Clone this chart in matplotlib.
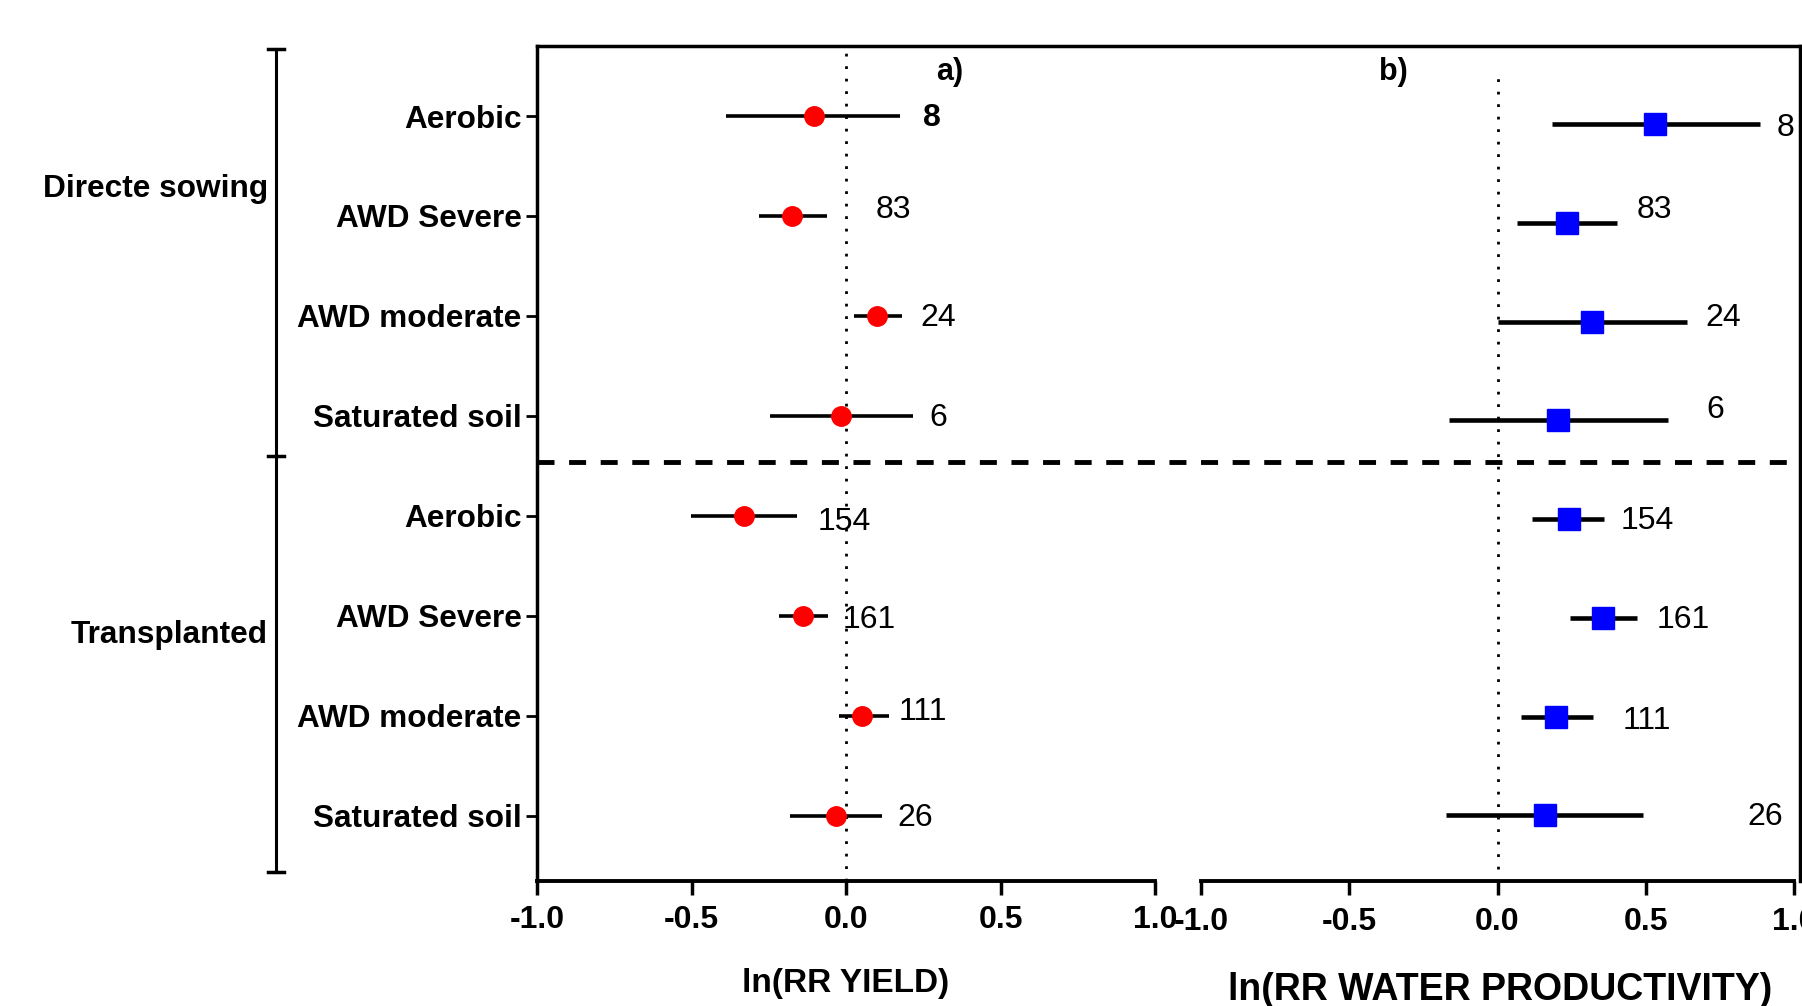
import matplotlib
matplotlib.use('Agg')
import matplotlib.pyplot as plt
import matplotlib.transforms as mtransforms
import numpy as np

plt.rcParams['font.family'] = ['Liberation Sans', 'DejaVu Sans']

# Data
rows = ['Aerobic', 'AWD Severe', 'AWD moderate', 'Saturated soil',
        'Aerobic', 'AWD Severe', 'AWD moderate', 'Saturated soil']
groups = ['Directe sowing', 'Transplanted']
n_obs = ['8', '83', '24', '6', '154', '161', '111', '26']

# a) ln(RR yield)
yield_mean = [-0.104, -0.175, 0.100, -0.015, -0.331, -0.138, 0.052, -0.033]
yield_low = [-0.387, -0.283, 0.026, -0.245, -0.502, -0.216, -0.022, -0.182]
yield_high = [0.175, -0.063, 0.182, 0.216, -0.160, -0.059, 0.138, 0.115]

# b) ln(RR water productivity)
wp_mean = [0.531, 0.233, 0.318, 0.205, 0.240, 0.357, 0.198, 0.159]
wp_low = [0.182, 0.066, 0.000, -0.163, 0.116, 0.244, 0.078, -0.174]
wp_high = [0.884, 0.403, 0.640, 0.574, 0.360, 0.469, 0.322, 0.492]

# where the n labels sit (x in data units, y offset in rows)
yield_nx = [0.249, 0.097, 0.242, 0.271, -0.093, -0.011, 0.171, 0.167]
yield_ny = [0.02, -0.06, 0.02, 0.02, 0.06, 0.04, -0.04, 0.02]
wp_nx = [0.942, 0.469, 0.702, 0.705, 0.415, 0.535, 0.422, 0.841]
wp_ny = [0.04, -0.13, -0.04, -0.11, 0.02, 0.02, 0.04, 0.02]

xticks = [-1.0, -0.5, 0.0, 0.5, 1.0]
pos = np.arange(1, len(rows) + 1)

fig = plt.figure(figsize=(18.02, 10.06), dpi=100)

ax_bottom, ax_height = 0.1243, 0.830
ax_frame = fig.add_axes([0.298, ax_bottom, 0.7009, ax_height])
ax1 = fig.add_axes([0.298, ax_bottom, 0.343, ax_height])
ax2 = fig.add_axes([0.6665, ax_bottom, 0.3324, ax_height])

# frame: long top line and dashed group separator
ax_frame.set_xlim(0, 1)
ax_frame.set_ylim(8.655, 0.299)
for s in ['left', 'right', 'bottom']:
    ax_frame.spines[s].set_visible(False)
ax_frame.spines['top'].set_linewidth(2.5)
ax_frame.set_xticks([])
ax_frame.set_yticks([])
ax_frame.patch.set_alpha(0)
ax_frame.plot([0, 1.02], [4.46, 4.46], color='black', lw=3.5,
              ls=(0, (3.5, 3)), zorder=1, clip_on=False)

# left panel
ax1.patch.set_alpha(0)
ax1.set_xlim(-1, 1)
ax1.set_ylim(8.655, 0.299)
ax1.axvline(0, color='black', lw=2.0, ls=(0, (1, 3.5)), zorder=1)
yerr_l = [np.array(yield_mean) - np.array(yield_low),
          np.array(yield_high) - np.array(yield_mean)]
ax1.errorbar(yield_mean, pos, xerr=yerr_l, fmt='o', color='red', ms=14,
             ecolor='black', elinewidth=2.6, capsize=0, zorder=3)
for i, lab in enumerate(n_obs):
    ax1.text(yield_nx[i], pos[i] + yield_ny[i], lab, fontsize=23, va='center',
             ha='left', fontweight='bold' if i == 0 else 'normal')
ax1.text(0.335, 0.56, 'a)', fontsize=22, fontweight='bold', va='center', ha='center')
ax1.spines['right'].set_visible(False)
ax1.spines['top'].set_visible(False)
ax1.spines['left'].set_linewidth(2.5)
ax1.spines['bottom'].set_linewidth(2.8)
ax1.set_yticks(pos)
ax1.set_yticklabels(rows, fontsize=22.7, fontweight='bold')
ax1.tick_params(axis='y', length=8, width=2, pad=3)
ax1.set_xticks(xticks)
ax1.set_xticklabels([f'{t:.1f}' for t in xticks], fontsize=23, fontweight='bold')
ax1.tick_params(axis='x', length=10, width=2.5, pad=7)
ax1.set_xlabel('ln(RR YIELD)', fontsize=24, fontweight='bold', labelpad=24)

# right panel
ax2.patch.set_alpha(0)
ax2.set_xlim(-1, 1.02)
ax2.set_ylim(8.663, 0.209)
ax2.axvline(0, ymin=0.014, ymax=0.972, color='black', lw=2.0,
            ls=(0, (1, 3.5)), zorder=1)
yerr_r = [np.array(wp_mean) - np.array(wp_low),
          np.array(wp_high) - np.array(wp_mean)]
ax2.errorbar(wp_mean, pos, xerr=yerr_r, fmt='s', color='blue', ms=16,
             ecolor='black', elinewidth=3.3, capsize=0, zorder=3)
for i, lab in enumerate(n_obs):
    ax2.text(wp_nx[i], pos[i] + wp_ny[i], lab, fontsize=23, va='center', ha='left')
ax2.text(-0.35, 0.47, 'b)', fontsize=22, fontweight='bold', va='center', ha='center')
ax2.spines['left'].set_visible(False)
ax2.spines['top'].set_visible(False)
ax2.spines['right'].set_linewidth(2.5)
ax2.spines['bottom'].set_linewidth(2.8)
ax2.spines['bottom'].set_bounds(-1, 1)
ax2.set_yticks([])
ax2.set_xticks(xticks)
ax2.set_xticklabels([f'{t:.1f}' for t in xticks], fontsize=23, fontweight='bold')
ax2.tick_params(axis='x', length=10, width=2.5, pad=9)
ax2.set_xlabel('ln(RR WATER PRODUCTIVITY)', fontsize=27, fontweight='bold', labelpad=25)

# group bracket on the far left
trans = mtransforms.blended_transform_factory(fig.transFigure, ax1.transData)
bx, cap = 0.1532, 0.0045
br_top, br_mid, br_bot = 0.33, 4.40, 8.57
ax1.plot([bx, bx], [br_top, br_bot], color='black', lw=2.2, transform=trans, clip_on=False)
for yy in [br_top, br_mid, br_bot]:
    ax1.plot([bx - cap, bx + cap], [yy, yy], color='black', lw=2.5,
             transform=trans, clip_on=False)
ax1.text(0.1487, 1.73, groups[0], fontsize=22.8, fontweight='bold', ha='right',
         va='center', transform=trans)
ax1.text(0.1487, 6.19, groups[1], fontsize=22.8, fontweight='bold', ha='right',
         va='center', transform=trans)

plt.savefig('out.png', dpi=100)
plt.close()
